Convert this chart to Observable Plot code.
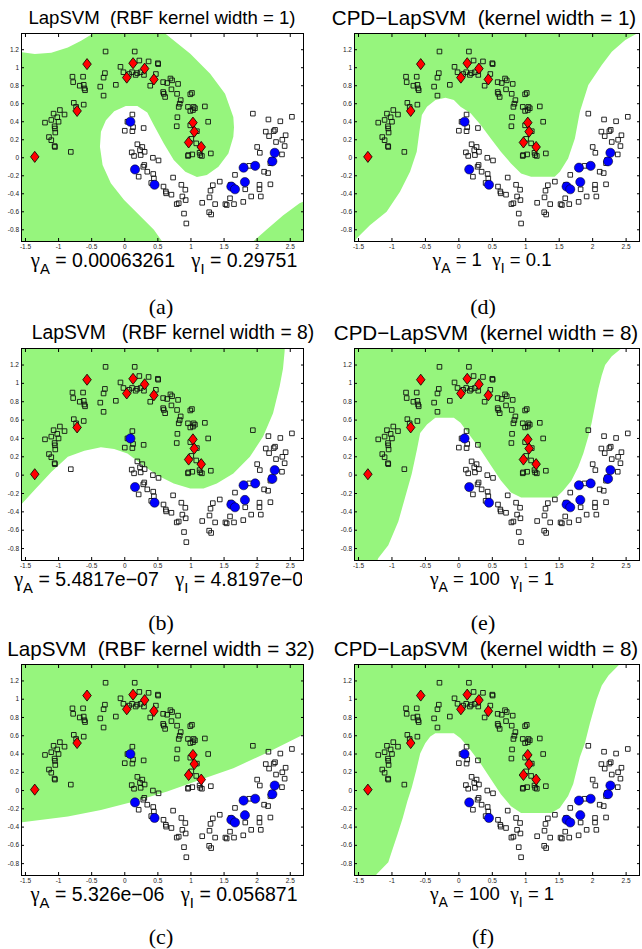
<!DOCTYPE html>
<html><head><meta charset="utf-8">
<script src="https://cdn.jsdelivr.net/npm/d3@7"></script>
<script src="https://cdn.jsdelivr.net/npm/@observablehq/plot@0.6"></script>
<style>
body{margin:0;background:#fff;}
#fig{position:relative;width:642px;height:949px;overflow:hidden;background:#fff;font-family:"Liberation Sans",Arial,sans-serif;color:#000;}
.svgbox{position:absolute;}
.t{position:absolute;white-space:pre;transform:translateX(-50%);}
.title{line-height:20px;}
.cap{line-height:16px;}
.cap .g{font-family:"Liberation Serif","Times New Roman",serif;font-size:1.06em;}
.cap .s{font-size:0.76em;position:relative;top:7px;}
.lab{font-family:"Liberation Serif","Times New Roman",serif;font-size:22px;line-height:22px;}
.clip{position:absolute;overflow:hidden;}
</style></head><body><div id="fig"></div>
<script>
// ---------- data ----------
const xTicks = [-1.5, -1, -0.5, 0, 0.5, 1, 1.5, 2, 2.5];
const yTicks = [-0.8, -0.6, -0.4, -0.2, 0, 0.2, 0.4, 0.6, 0.8, 1, 1.2];
const xDomain = [-1.56, 2.7];
const yDomain = [-0.93, 1.38];

// unlabeled points (squares)
const unlabeled = [
 [-0.29,1.18],[0.15,1.18],[-0.065,1.01],[0.22,1.08],[0.36,1.07],[0.50,1.05],[0.505,1.04],[-0.02,0.95],[0.065,0.93],[0.165,0.92],
 [0.24,0.95],[0.29,0.92],[0.47,0.93],[0.11,0.95],[0.19,0.94],[-0.30,0.94],[-0.32,0.89],[-0.37,0.79],[-0.32,0.69],[-0.135,0.81],[0.385,0.80],
 [-0.79,0.90],[-0.78,0.84],[-0.63,0.90],[-0.68,0.80],[-0.62,0.81],[-0.61,0.77],[-0.60,0.75],[-0.77,0.61],[-0.62,0.59],[-0.735,0.565],
 [-1.205,0.39],[-1.075,0.49],[-0.98,0.53],[-0.91,0.48],[-1.02,0.45],[-1.11,0.42],[-1.0,0.40],[-1.06,0.35],[-1.055,0.325],[-1.05,0.28],
 [-1.145,0.23],[-1.11,0.195],[-1.06,0.13],[-1.055,0.12],[-0.815,0.065],
 [0.58,0.84],[0.64,0.83],[0.69,0.88],[0.715,0.86],[0.805,0.82],[0.705,0.76],[0.58,0.73],[0.59,0.71],[0.61,0.675],[0.79,0.71],
 [0.845,0.64],[0.83,0.60],[0.815,0.565],[0.99,0.705],[1.015,0.72],[0.955,0.565],[1.04,0.565],[1.03,0.53],[0.99,0.52],[1.06,0.55],
 [1.21,0.57],[0.795,0.45],[0.785,0.35],[0.99,0.36],[1.09,0.295],[1.26,0.40],[1.005,0.21],[1.08,0.16],[1.13,0.055],[1.02,0.037],
 [0.955,0.02],[0.96,0.03],[1.14,0.03],[1.165,0.02],[1.30,0.048],
 [0.115,0.48],[0.04,0.40],[0.0,0.30],[0.115,0.295],[0.125,0.34],[0.285,0.33],[0.19,0.15],[0.265,0.12],[0.105,0.06],[0.14,0.02],
 [0.23,0.085],[0.30,0.066],[0.24,0.03],[0.295,-0.08],[0.28,-0.10],[0.425,0.0],[0.51,-0.03],[0.21,-0.21],[0.34,-0.155],[0.43,-0.18],
 [0.44,-0.23],[0.40,-0.28],[0.585,-0.32],[0.62,-0.375],[0.625,-0.395],[0.705,-0.41],[0.73,-0.22],[0.855,-0.30],[0.915,-0.355],[0.87,-0.43],
 [0.92,-0.47],[0.815,-0.505],[0.785,-0.515],[0.895,-0.62],[0.93,-0.73],
 [1.17,-0.50],[1.275,-0.605],[1.305,-0.63],[1.28,-0.44],[1.295,-0.365],[1.33,-0.305],[1.435,-0.265],[1.365,-0.515],[1.52,-0.515],[1.54,-0.525],
 [1.59,-0.45],[1.65,-0.515],[1.665,-0.19],[1.79,-0.49],[1.82,-0.35],[1.91,-0.43],[2.055,-0.43],[2.035,-0.30],[2.035,-0.35],[1.88,-0.09],
 [2.0,0.12],[2.04,0.055],[2.105,-0.155],[2.165,-0.17],[2.2,-0.295],[1.935,0.49],[2.17,0.425],[2.13,0.29],[2.18,0.24],[2.25,0.295],
 [2.27,0.31],[2.35,0.405],[2.525,0.455],[2.285,0.175],[2.38,0.20],[2.43,0.25],[2.415,0.13],[2.375,0.037],[2.215,-0.025],[2.2,-0.06],[1.6,-0.3]
];
// labeled class +1 (red diamonds)
const positive = [[-1.36,0.01],[-0.72,0.52],[-0.57,1.04],[0.03,0.89],[0.125,1.05],[0.30,0.99],[0.44,0.87],[1.03,0.39],[1.05,0.29],[0.965,0.17],[1.155,0.12]];
// labeled class -1 (blue circles)
const negative = [[0.085,0.40],[0.155,-0.13],[0.45,-0.30],[1.61,-0.32],[1.665,-0.35],[1.795,-0.11],[1.815,-0.27],[1.97,-0.09],[2.23,-0.04],[2.265,0.055]];

// decision regions (boundary polygons, data units)
const regionA_whiteTopLeft = [[-1.7,1.5],[-1.7,1.17],[-1.55,1.173],[-1.36,1.151],[-1.11,1.166],[-0.86,1.225],[-0.66,1.30],[-0.485,1.376],[-0.44,1.5]];
const regionA_whiteMain = [[0.58,1.5],[0.615,1.376],[0.99,1.155],[1.29,0.934],[1.515,0.712],[1.64,0.454],[1.65,0.34],[1.64,0.232],[1.565,0.048],[1.415,-0.10],[1.24,-0.192],[1.09,-0.214],[0.915,-0.155],[0.74,-0.026],[0.59,0.159],[0.44,0.362],[0.34,0.502],[0.19,0.576],[0.015,0.576],[-0.16,0.517],[-0.285,0.417],[-0.36,0.288],[-0.375,0.122],[-0.335,-0.081],[-0.21,-0.284],[-0.01,-0.469],[0.24,-0.653],[0.44,-0.80],[0.565,-0.93],[0.6,-1.0],[1.92,-1.0],[1.94,-0.93],[2.14,-0.80],[2.39,-0.642],[2.64,-0.506],[2.8,-0.45],[2.8,1.5]];
const regionB_green = [[-1.7,-0.38],[-1.55,-0.31],[-1.36,-0.16],[-1.11,0.033],[-0.86,0.20],[-0.61,0.266],[-0.36,0.303],[-0.16,0.285],[0.04,0.237],[0.24,0.128],[0.49,0.0],[0.74,-0.09],[0.99,-0.146],[1.19,-0.146],[1.39,-0.09],[1.64,0.018],[1.89,0.20],[2.09,0.42],[2.24,0.675],[2.34,0.97],[2.39,1.16],[2.415,1.35],[2.42,1.5],[-1.7,1.5]];
const regionC_green = [[-1.7,-0.36],[-1.55,-0.347],[-0.86,-0.285],[-0.36,-0.212],[0.14,-0.12],[0.64,-0.011],[1.14,0.117],[1.64,0.245],[2.14,0.41],[2.64,0.592],[2.8,0.65],[2.8,1.5],[-1.7,1.5]];
const regionD_green = [[-1.6,-1.0],[-1.53,-0.896],[-1.33,-0.75],[-1.08,-0.60],[-0.88,-0.378],[-0.73,-0.156],[-0.63,0.067],[-0.59,0.289],[-0.553,0.474],[-0.477,0.567],[-0.35,0.641],[-0.20,0.667],[-0.075,0.641],[0.025,0.567],[0.176,0.493],[0.327,0.363],[0.477,0.215],[0.628,0.067],[0.779,-0.063],[0.93,-0.174],[1.08,-0.211],[1.432,-0.211],[1.51,-0.156],[1.633,-0.007],[1.734,0.215],[1.809,0.511],[1.935,0.807],[2.136,1.03],[2.286,1.178],[2.487,1.307],[2.663,1.381],[2.7,1.5],[-1.7,1.5],[-1.7,-1.0]];
const regionE_green = [[-1.25,-1.0],[-1.206,-0.905],[-1.055,-0.763],[-0.905,-0.504],[-0.804,-0.244],[-0.704,0.015],[-0.628,0.274],[-0.578,0.459],[-0.477,0.552],[-0.352,0.626],[-0.075,0.626],[0.025,0.570],[0.176,0.422],[0.327,0.274],[0.477,0.107],[0.628,-0.059],[0.779,-0.189],[0.93,-0.244],[1.457,-0.244],[1.558,-0.17],[1.683,-0.059],[1.784,0.089],[1.86,0.237],[1.935,0.422],[1.985,0.57],[2.035,0.756],[2.085,0.941],[2.136,1.089],[2.186,1.2],[2.286,1.296],[2.437,1.385],[2.47,1.5],[-1.7,1.5],[-1.7,-1.0]];
const regionF_green = [[-1.27,-1.0],[-1.23,-0.915],[-1.055,-0.784],[-1.005,-0.673],[-0.92,-0.487],[-0.839,-0.30],[-0.769,-0.115],[-0.704,0.033],[-0.638,0.219],[-0.578,0.405],[-0.503,0.517],[-0.427,0.591],[-0.352,0.628],[-0.075,0.628],[0.025,0.572],[0.176,0.442],[0.327,0.294],[0.477,0.126],[0.628,-0.041],[0.779,-0.171],[0.93,-0.245],[1.382,-0.245],[1.508,-0.19],[1.633,-0.06],[1.709,0.071],[1.759,0.219],[1.809,0.368],[1.884,0.517],[1.96,0.74],[2.06,1.0],[2.136,1.149],[2.236,1.26],[2.412,1.39],[2.44,1.5],[-1.7,1.5],[-1.7,-1.0]];

const titles = ["LapSVM  (RBF kernel width = 1)","LapSVM   (RBF kernel width = 8)","LapSVM  (RBF kernel width = 32)",
                "CPD\u2212LapSVM  (kernel width = 1)","CPD\u2212LapSVM  (kernel width = 8)","CPD\u2212LapSVM  (kernel width = 8)"];
const gammaA = ["0.00063261","5.4817e\u221207","5.326e\u221206","1","100","100"];
const gammaI = ["0.29751","4.8197e\u221205","0.056871","0.1","1","1"];
const gapSpaces = [3,3,3,2,2,2];
const panelLabels = ["(a)","(b)","(c)","(d)","(e)","(f)"];

// ---------- layout ----------
const green = "rgb(150,245,125)";
const rows = [{top:25, fh:208, labY:307},{top:340, fh:212, labY:623},{top:656, fh:211, labY:937}];
const cols = [{left:0, ml:21, mr:18, cc:164, lc:161, clipL:0, clipW:302},
              {left:321, ml:33, mr:3, cc:492, lc:483, clipL:321, clipW:321}];
const titleStyle = [{c:162, fs:18.6},{c:173, fs:19.3},{c:161, fs:20.6},{c:484, fs:20.6},{c:486, fs:20.6},{c:486, fs:20.6}];
const capFont = [19.5, 19.5, 19.5, 18.5, 18.5, 18.5];
const mt = 8, mb = 14, W = 321;

// MATLAB-like diamond marker shape
const matlabDiamond = {draw(ctx, size) {
  const k = Math.sqrt(size / Math.PI);
  ctx.moveTo(0, -1.5 * k); ctx.lineTo(1.15 * k, 0); ctx.lineTo(0, 1.5 * k); ctx.lineTo(-1.15 * k, 0); ctx.closePath();
}};

const fig = document.getElementById("fig");
const panelDefs = [
  {bg: green, fill: "white", polys: [regionA_whiteTopLeft, regionA_whiteMain]},
  {bg: "white", fill: green, polys: [regionB_green]},
  {bg: "white", fill: green, polys: [regionC_green]},
  {bg: "white", fill: green, polys: [regionD_green]},
  {bg: "white", fill: green, polys: [regionE_green]},
  {bg: "white", fill: green, polys: [regionF_green]}
];

panelDefs.forEach((p, i) => {
  const col = cols[Math.floor(i / 3)], row = rows[i % 3];
  const H = row.fh + mt + mb;
  const px = d => d[0], py = d => d[1];
  const marks = [
    Plot.frame({fill: p.bg, stroke: null}),
    ...p.polys.map(poly => Plot.line(poly, {x: px, y: py, fill: p.fill, stroke: "none", clip: true})),
    Plot.dot(unlabeled, {x: px, y: py, symbol: "square", r: 2.6, stroke: "#111", strokeWidth: 0.9, fill: "none"}),
    Plot.dot(positive, {x: px, y: py, symbol: matlabDiamond, r: 3.7, fill: "#ff0000", stroke: "#000", strokeWidth: 0.8}),
    Plot.dot(negative, {x: px, y: py, symbol: "circle", r: 4.6, fill: "#0000ff", stroke: "#000", strokeWidth: 0.5}),
    Plot.axisX({ticks: xTicks, anchor: "bottom", tickSize: 0, tickPadding: 2.5, tickFormat: d => String(d), fontSize: 6.5, fill: "#222", label: null}),
    Plot.axisY({ticks: yTicks, anchor: "left", tickSize: 0, tickPadding: 2.5, tickFormat: d => String(d), fontSize: 6.5, fill: "#222", label: null}),
    Plot.axisX({ticks: xTicks, anchor: "bottom", tickSize: 3, dy: -3, tickFormat: () => "", label: null, stroke: "#000"}),
    Plot.axisX({ticks: xTicks, anchor: "top", tickSize: 3, dy: 3, tickFormat: () => "", label: null, stroke: "#000"}),
    Plot.axisY({ticks: yTicks, anchor: "left", tickSize: 3, dx: 3, tickFormat: () => "", label: null, stroke: "#000"}),
    Plot.axisY({ticks: yTicks, anchor: "right", tickSize: 3, dx: -3, tickFormat: () => "", label: null, stroke: "#000"}),
    Plot.frame({stroke: "#000", strokeWidth: 1})
  ];
  const chart = Plot.plot({
    width: W, height: H, marginLeft: col.ml, marginRight: col.mr, marginTop: mt, marginBottom: mb,
    x: {domain: xDomain}, y: {domain: yDomain},
    style: {fontFamily: "Liberation Sans, Arial, sans-serif", background: "transparent", overflow: "visible"},
    marks
  });
  const box = document.createElement("div");
  box.className = "svgbox";
  box.style.left = col.left + "px"; box.style.top = row.top + "px";
  box.appendChild(chart);
  fig.appendChild(box);

  const frameTop = row.top + mt, frameBottom = row.top + mt + row.fh;
  // title
  const t = document.createElement("div");
  t.className = "t title"; t.textContent = titles[i];
  t.style.fontSize = titleStyle[i].fs + "px";
  t.style.left = titleStyle[i].c + "px"; t.style.top = (frameTop - 15 - 10) + "px";
  fig.appendChild(t);
  // caption with gamma values (clipped horizontally to its column)
  const fs = capFont[i];
  const clipTop = frameBottom + 2;
  const clip = document.createElement("div");
  clip.className = "clip";
  clip.style.left = col.clipL + "px"; clip.style.width = col.clipW + "px";
  clip.style.top = clipTop + "px"; clip.style.height = "44px";
  const c = document.createElement("div");
  c.className = "t cap";
  c.style.fontSize = fs + "px";
  c.innerHTML = `<span class="g">\u03b3</span><span class="s">A</span> = ${gammaA[i]}${" ".repeat(gapSpaces[i])}<span class="g">\u03b3</span><span class="s">I</span> = ${gammaI[i]}`;
  const baseline = frameBottom + 25.3;
  c.style.left = (col.cc - col.clipL) + "px";
  c.style.top = (baseline - clipTop - ((16 - 1.117 * fs) / 2 + 0.905 * fs)) + "px";
  clip.appendChild(c);
  fig.appendChild(clip);
  // panel label
  const l = document.createElement("div");
  l.className = "t lab"; l.textContent = panelLabels[i];
  l.style.left = col.lc + "px"; l.style.top = (row.labY - 11) + "px";
  fig.appendChild(l);
});
</script></body></html>
